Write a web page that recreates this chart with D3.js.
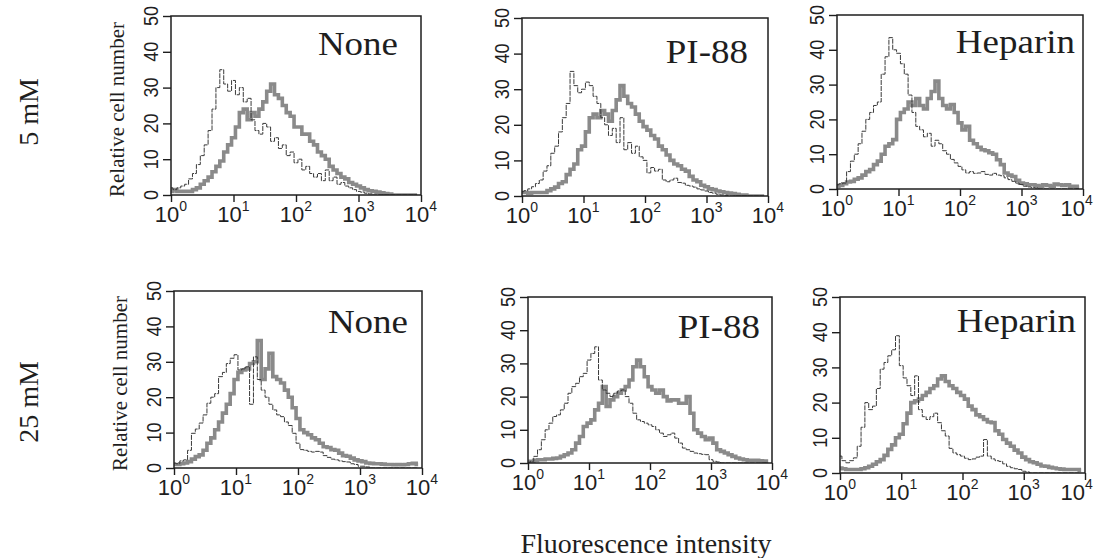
<!DOCTYPE html>
<html><head><meta charset="utf-8">
<script src="https://cdn.jsdelivr.net/npm/d3@7"></script>
<style>
html,body{margin:0;padding:0;background:#fff;}
svg{display:block;}
</style></head>
<body>
<svg id="chart" width="1095" height="558"></svg>
<script>
// ---------- DATA ----------
// Histogram channels: one value every 1/16 decade, starting at 10^0
const channelsPerDecade = 16;
const rowLabels = ["5 mM", "25 mM"];
const treatments = ["None", "PI-88", "Heparin"];
const yTicksMajor = [0, 10, 20, 30, 40, 50];
const xTickExponents = [0, 1, 2, 3, 4];
const yLabel = "Relative cell number";
const xLabel = "Fluorescence intensity";

// 5 mM
const control_5_None = [2,1.5,2,2.5,3,4.5,6,8.5,11,14,18,24,30,35,31,29,32,28,30,26,27,21,18,17,20,19,15,16,13,14,11,12,9,10,7,8,6,5,6,4,7,4,5,3,3.5,2.5,2,1.5,1,0.8,0.5,0.3,0,0,0,0,0,0,0,0,0,0,0,0];
const treated_5_None = [1,1.5,1,1,1,1,1.5,2,3,4,5,6.5,8,9.5,12,14,16,19,23,24,21,23,22,24,26,29,31,28,27,25,23,22,19,19,17,17,15,14,12,11,10,8,7,6,5,4.5,3.5,3,2.5,2,1.5,1.2,1,0.8,0.6,0.4,0.3,0,0,0,0,0,0,0];
const control_5_PI88 = [1.2,1.5,2,2.6,3.5,4.5,7,8.5,12,14,18,22,26,35,31,29,30,32,31,28,26,22,20,17,19,15,22,13,15,12,14,11,10,6.5,8,7,7.5,4.5,4,4.5,5,3.8,3.6,3,2.8,2.5,2,1.7,1.4,1,0.8,0.5,0.3,0.2,0,0,0,0,0,0,0,0,0,0];
const treated_5_PI88 = [1,1,0.8,1,1,1,1,1.5,2,2.5,3.5,4,6,7.5,9,13,14,18,22,23,22,24,23,21,24,27,31,28,26,25,23,21,19.5,18.5,17,16,14,13,11.5,10,9,8.5,7.5,7,5.5,4.5,4,3,2.6,2,1.8,1.4,1.2,1,0.8,0.7,0.5,0.3,0.3,0,0,0,0,0];
const control_5_Heparin = [1.2,1.5,1.7,5,8,10,13,16.6,20,22,24,25,33,38,43.5,40,39,36,33,27,22,18,17,15,16,12.3,14,13,11,10,8.5,7.5,6.5,5.5,4.6,5,4.5,4.6,5,4.2,4,4.5,4,3.8,3.2,2.7,2.2,1.7,1.3,0.8,0.6,0.4,0.3,0,0,0,0,0,0,0,0,0,0,0];
const treated_5_Heparin = [0.8,1,1.5,2,2.2,2.8,3.2,4,5,5.6,7,8,10,12.3,13,14.2,20,22,23,25,24,26,24,23,26,28,31,26,24,23,24.3,22,19,17,18,14,13,12,11.3,11,10.4,10,8.4,7,4.6,4,3.6,2.5,1.7,1.5,1.2,1.2,1,0.8,1.2,1,0.8,1.4,1.2,1,1.2,0.8,0.8,0.5];
// 25 mM
const control_25_None = [1.4,1.2,2,2.3,5,9.8,11,12.7,15,18.3,20,21,25.8,27,29.5,31,32,27.7,28,28.6,18,31.4,25,22,20,18,16.4,15,14.5,13,12,9.8,7,5.2,5,4.7,4.5,4.7,4.5,3.5,3,2.5,2.3,2,1.8,1.7,1.2,1,0.5,0.5,0.3,0,0,0,0,0,0,0,0,0,0,0,0,0];
const treated_25_None = [1,1,1.2,1.4,1.8,2.5,3.2,3.7,5,7,8.5,10.8,13,15.5,18,21,25,27,27.7,28,29.5,30,36,25,28,32.4,25.8,25,24,22,20,17,14,10.8,10,9.4,8.5,8,7,6,5.8,5.2,5,4.2,3.5,3.3,2.8,2.3,2,1.8,1.4,1.3,1.2,1.2,1.1,1,1,0.9,1,0.9,1,1.2,1.3,1];
const control_25_PI88 = [0,0.5,2,4,7,10,12,14,14.5,16,18,21,23,24,26,27,31,33,35,25,22,21,20,21,21.7,22,20,18,15,13,12.5,12,11.5,11,10,9,8,8.5,9,7.5,6,4.5,4,3.5,3,2.8,2.6,2.5,1,0.5,0.3,0,0,0,0,0,0,0,0,0,0,0,0,0];
const treated_25_PI88 = [0.2,0.5,0.8,1,1,1.2,1.2,1.4,1.5,2,2.5,3,4,6,8,11,12,13,16,18,23,17,19,20,21,22,23,25,29,31,29,26,23,22,21,22,20,18.7,19,19,18,18,20,15,10,9,8,7,7.5,6,4,3.5,3,2.5,2,1.5,1.2,1,0.8,0.8,0.8,0.7,0.6,0.5];
const control_25_Heparin = [4.8,3.5,2.9,3.5,4.3,7.6,13,20,18,19,24,29.5,31.4,33.3,35,39,30.5,27,24.8,22,27.6,18,16,15.2,16,17,14.3,12,10.5,7,5.7,5.2,4.8,4.2,3.8,4,4.5,4.8,9.5,4.8,4,3.5,3.3,2.6,1.9,1.5,1.2,1,0.5,0.3,0,0,0,0,0,0,0,0,0,0,0,0,0,0];
const treated_25_Heparin = [1.4,1.2,1,1,1,1,1.2,1.5,1.9,2.5,3.2,3.8,5,6.7,8,10,11,14,17,20,20.5,21,22,22.9,24,24.8,26.7,27.6,26,24.8,24,22.9,22,21,19,18,16.5,16,15.2,14.5,14.3,12,11,9.5,8.5,7.6,6.5,5.7,4.5,3.8,3.2,2.9,2.5,2,1.9,1.6,1.4,1.2,1.1,1,1,1,1,0.8];

const controls = [[control_5_None, control_5_PI88, control_5_Heparin],[control_25_None, control_25_PI88, control_25_Heparin]];
const treateds = [[treated_5_None, treated_5_PI88, treated_5_Heparin],[treated_25_None, treated_25_PI88, treated_25_Heparin]];

// ---------- LAYOUT ----------
const W = 1095;
const boxes = [
  [{x0:171,x1:421,y0:16,y1:195,lx:23,ly:39},{x0:522,x1:768,y0:18,y1:196,lx:20,ly:45},{x0:837,x1:1083,y0:15,y1:189,lx:8,ly:38}],
  [{x0:174,x1:422,y0:291,y1:468,lx:14,ly:42},{x0:528,x1:772,y0:297,y1:463,lx:12,ly:41},{x0:840,x1:1085,y0:297,y1:473,lx:9,ly:35}]
];

const svg = d3.select("#chart");
const serif = "'Liberation Serif','Times New Roman',serif";
const sans = "'Liberation Sans',Arial,Helvetica,sans-serif";
const ink = "#1e1e1e";

boxes.forEach((row, r) => {
  row.forEach((b, c) => {
    const x = d3.scaleLog().domain([1, 1e4]).range([b.x0, b.x1]);
    const y = d3.scaleLinear().domain([0, 50]).range([b.y1, b.y0]);
    const g = svg.append("g");
    const clipId = "clip" + r + c;
    g.append("clipPath").attr("id", clipId).append("rect")
      .attr("x", b.x0).attr("y", b.y0 - 2).attr("width", b.x1 - b.x0).attr("height", b.y1 - b.y0 + 2);

    const line = d3.line()
      .x((d, i) => x(Math.pow(10, i / channelsPerDecade)))
      .y(d => y(d))
      .curve(d3.curveStep);

    g.append("path").datum(treateds[r][c])
      .attr("d", line).attr("fill", "none").attr("stroke", "#8a8a8a")
      .attr("stroke-width", 3.6).attr("stroke-linejoin", "miter")
      .attr("clip-path", `url(#${clipId})`);
    g.append("path").datum(controls[r][c])
      .attr("d", line).attr("fill", "none").attr("stroke", "#3a3a3a")
      .attr("stroke-width", 1).attr("stroke-dasharray", "5,1")
      .attr("clip-path", `url(#${clipId})`);

    // frame
    g.append("rect").attr("x", b.x0).attr("y", b.y0)
      .attr("width", b.x1 - b.x0).attr("height", b.y1 - b.y0)
      .attr("fill", "none").attr("stroke", ink).attr("stroke-width", 1.5);

    // y axis ticks
    const yMinor = d3.range(0, 51, 2);
    const ya = g.append("g").attr("transform", `translate(${b.x0},0)`)
      .call(d3.axisLeft(y).tickValues(yMinor).tickSize(4).tickFormat(""));
    ya.call(d3.axisLeft(y).tickValues(yTicksMajor).tickSize(8).tickFormat(""));
    ya.selectAll(".domain").remove();
    ya.selectAll("line").attr("stroke", ink).attr("stroke-width", 1.4);

    yTicksMajor.forEach(v => {
      g.append("text")
        .attr("transform", `translate(${b.x0 - 20},${y(v)}) rotate(-90) scale(1,1.15)`)
        .attr("text-anchor", "middle").attr("dominant-baseline", "central")
        .attr("font-family", sans).attr("font-size", 18).attr("fill", ink)
        .text(v);
    });

    // x axis ticks
    const xMinor = [];
    for (let e = 0; e < 4; e++) for (let k = 2; k <= 9; k++) xMinor.push(k * Math.pow(10, e));
    const xa = g.append("g").attr("transform", `translate(0,${b.y1})`)
      .call(d3.axisBottom(x).tickValues(xMinor).tickSize(4).tickFormat(""));
    xa.call(d3.axisBottom(x).tickValues(xTickExponents.map(e => Math.pow(10, e))).tickSize(7).tickFormat(""));
    xa.selectAll(".domain").remove();
    xa.selectAll("line").attr("stroke", ink).attr("stroke-width", 1.4);

    xTickExponents.forEach(e => {
      const t = g.append("text")
        .attr("x", x(Math.pow(10, e))).attr("y", b.y1 + 27)
        .attr("text-anchor", "middle")
        .attr("font-family", sans).attr("font-size", 22).attr("fill", ink);
      t.append("tspan").text("10");
      t.append("tspan").attr("dy", -11).attr("font-size", 14).text(String(e));
      // keep the label inside the picture
      const bb = t.node().getBBox();
      if (bb.x + bb.width > W - 2) {
        t.attr("x", +t.attr("x") - (bb.x + bb.width - (W - 2)));
      }
    });

    // treatment label
    g.append("text")
      .attr("transform", `translate(${b.x1 - b.lx},${b.y0 + b.ly}) scale(1,0.9)`)
      .attr("text-anchor", "end")
      .attr("font-family", serif).attr("font-size", 37).attr("fill", ink)
      .text(treatments[c]);

    if (c === 0) {
      g.append("text")
        .attr("transform", `translate(${b.x0 - 54},${(b.y0 + b.y1) / 2 + 4}) rotate(-90)`)
        .attr("text-anchor", "middle").attr("dominant-baseline", "central")
        .attr("font-family", serif).attr("font-size", 21).attr("fill", ink)
        .text(yLabel);
    }
  });
  // row label
  const cy = r === 0 ? 112 : 402;
  svg.append("text")
    .attr("transform", `translate(28,${cy}) rotate(-90)`)
    .attr("text-anchor", "middle").attr("dominant-baseline", "central")
    .attr("font-family", serif).attr("font-size", 28).attr("fill", ink)
    .text(rowLabels[r]);
});

svg.append("text")
  .attr("x", 646).attr("y", 553)
  .attr("text-anchor", "middle")
  .attr("font-family", serif).attr("font-size", 28).attr("fill", ink)
  .text(xLabel);
</script>
</body></html>
